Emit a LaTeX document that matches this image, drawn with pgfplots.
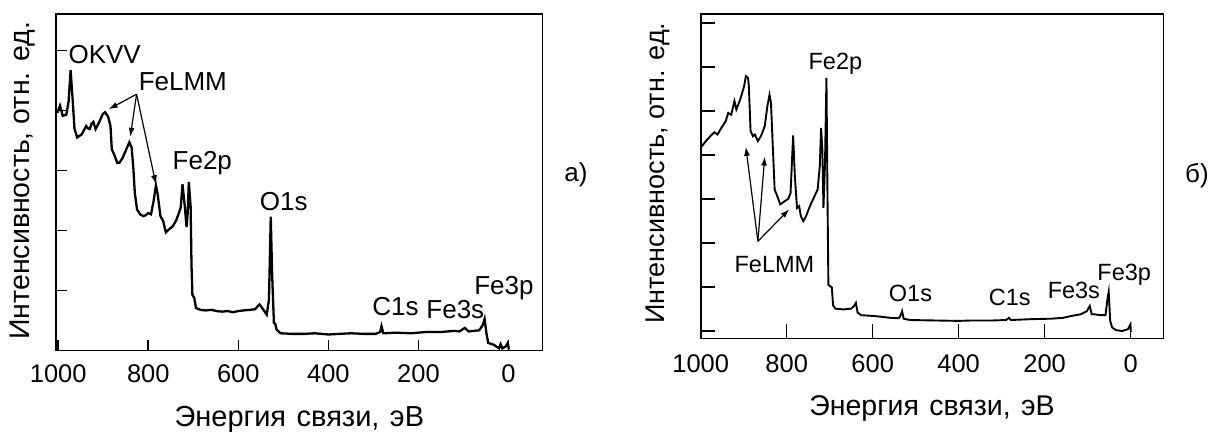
\documentclass[border=0pt]{standalone}
\usepackage{fontspec}
\setmainfont{Liberation Sans}
\newfontfamily\lblfont[WordSpace=1.3]{Liberation Sans}
\usepackage{pgfplots}
\pgfplotsset{compat=1.18}
\usetikzlibrary{arrows.meta}

\pgfplotsset{
  xps/.style={
    scale only axis,
    anchor=south west,
    x dir=reverse,
    clip=false,
    tick align=inside,
    xtick pos=bottom,
    ytick pos=left,
    xtick={0,200,...,1000},
    yticklabels={},
    scaled x ticks=false,
    /pgf/number format/1000 sep={},
    /pgf/number format/assume math mode=true,
    axis line style={line width=0.8pt},
    major tick style={line width=0.8pt,black},
    minor tick num=0,
  },
}
\tikzset{
  lbl/.style={inner sep=0pt},
  arr/.style={-{Latex[length=4.5pt,width=3pt]},line width=0.6pt},
}

\begin{document}
\begin{tikzpicture}
\useasboundingbox (-28pt,-41.15pt) rectangle (579.5pt,175.35pt);

% panel a
\begin{axis}[xps,
  at={(0pt,0pt)},
  width=243.35pt, height=168.2pt,
  xmin=-76, xmax=1005,
  ymin=0, ymax=5.6,
  ytick={1,2,3,4,5},
  major tick length=5.3pt,
  xticklabel style={font=\fontsize{12.75}{15}\selectfont,anchor=base,yshift=-16.15pt},
  xlabel={Энергия связи, эВ},
  ylabel={Интенсивность, отн. ед.},
  every axis x label/.style={at={(axis description cs:0.5,-0.224)},anchor=base,font=\lblfont\fontsize{14.5}{16}\selectfont},
  every axis y label/.style={at={(axis description cs:-0.0678,0.505)},anchor=center,rotate=90,font=\fontsize{14.25}{16}\selectfont},
]
\addplot[black,line width=1.15pt] coordinates {
(1002,3.96) (996,4.08) (990,3.91) (982,3.93) (977,4.15) (972.5,4.67) (968,4.18)
(964,3.70) (958,3.55) (948,3.60) (938,3.74) (934,3.70) (930,3.69) (926,3.78)
(922,3.81) (917,3.69) (910,3.79) (901,3.94) (896,3.97) (889,3.89) (884,3.74)
(881,3.35) (876,3.27) (869,3.13) (864,3.13) (857,3.21) (849,3.35) (842,3.47)
(837,3.38) (833,3.02) (830,2.63) (825,2.35) (818,2.27) (811,2.24) (807,2.25)
(800,2.29) (794,2.27) (788,2.50) (783,2.75) (779,2.60) (773,2.24) (767,2.16)
(761,1.97) (754,2.02) (746,2.07) (738,2.17) (732,2.29) (728,2.38) (724,2.77)
(719,2.41) (715,2.06) (712.5,2.29) (710,2.81) (706,2.40) (704,1.41) (702,0.93)
(698,0.88) (694,0.71) (684,0.68) (672,0.67) (660,0.68) (648,0.66) (636,0.65)
(624,0.66) (612,0.64) (600,0.66) (589,0.67) (575,0.68) (563,0.69) (553,0.77)
(545,0.69) (537,0.60) (532,0.85) (528,2.23) (525,1.29) (521,0.46) (518,0.45)
(515,0.35) (506,0.29) (480,0.28) (454,0.28) (430,0.29) (400,0.27) (375,0.28)
(350,0.29) (320,0.28) (295,0.28) (285,0.31) (282,0.41) (278,0.29) (250,0.30)
(216,0.29) (185,0.31) (152,0.31) (120,0.33) (109,0.32) (97,0.38) (89,0.32)
(65,0.34) (57,0.43) (53,0.53) (49,0.29) (45,0.13) (33,0.10) (21,0.04)
(17.5,0.11) (13.5,0.04) (6,0.07) (1.6,0.13) (-1,0.02)
};
\begin{scope}[font=\fontsize{13}{15}\selectfont]
\node[lbl,anchor=base west] at (axis cs:978,4.78) {OKVV};
\node[lbl,anchor=base west] at (axis cs:822,4.33) {FeLMM};
\node[lbl,anchor=base] at (axis cs:680,3.02) {Fe2p};
\node[lbl,anchor=base] at (axis cs:499,2.33) {O1s};
\node[lbl,anchor=base] at (axis cs:251,0.59) {C1s};
\node[lbl,anchor=base] at (axis cs:118,0.53) {Fe3s};
\node[lbl,anchor=base] at (axis cs:10,0.93) {Fe3p};
\end{scope}
\draw[arr] (axis cs:826,4.27) -- (axis cs:888,4.02);
\draw[arr] (axis cs:826,4.27) -- (axis cs:840,3.56);
\draw[arr] (axis cs:826,4.27) -- (axis cs:783,2.77);
\end{axis}

% panel b
\begin{axis}[xps,
  at={(322.35pt,6.2pt)},
  width=231.3pt, height=162pt,
  xmin=-76, xmax=1000,
  ymin=-0.166, ymax=7.205,
  ytick={0,1,...,7},
  major tick length=7pt,
  xticklabel style={font=\fontsize{12.75}{15}\selectfont,anchor=base,yshift=-17.35pt},
  xlabel={Энергия связи, эВ},
  ylabel={Интенсивность, отн. ед.},
  every axis x label/.style={at={(axis description cs:0.5,-0.237)},anchor=base,font=\lblfont\fontsize{14.25}{16}\selectfont},
  every axis y label/.style={at={(axis description cs:-0.0934,0.51)},anchor=center,rotate=90,font=\fontsize{13.5}{16}\selectfont},
]
\addplot[black,line width=0.95pt] coordinates {
(1000,4.17) (988,4.32) (974,4.47) (968,4.52) (961,4.47) (952,4.62) (942,4.77)
(936,4.96) (929,4.92) (921.5,5.23) (917,5.04) (908,5.27) (899,5.57) (895,5.80)
(890,5.76) (888,5.57) (884,4.55) (878.5,4.43) (874,4.47) (867,4.32) (860,4.43)
(851,4.66) (845,5.11) (840,5.37) (836.5,5.19) (833,4.36) (828,3.22) (822,3.07)
(815,2.88) (805,2.95) (796,3.01) (791,3.14) (785,4.45) (781,3.52) (776,2.80)
(771,2.84) (767,2.61) (761.5,2.50) (755,2.61) (746,2.84) (737,3.03) (728,3.22)
(723,3.75) (720,4.62) (717,4.13) (714.5,2.80) (711,3.75) (707.5,5.76) (705,2.99)
(703,1.05) (699,1.02) (695,0.99) (692,0.58) (687,0.51) (668,0.49) (650,0.51)
(643,0.57) (639,0.64) (635,0.42) (627,0.36) (595,0.34) (559,0.30) (539,0.29)
(534,0.38) (531.5,0.45) (528,0.28) (513,0.25) (458,0.24) (400,0.23) (367,0.24)
(320,0.24) (289.5,0.25) (283,0.30) (278.5,0.25) (230,0.27) (184.5,0.28)
(157,0.30) (139,0.34) (116,0.38) (102,0.45) (95,0.57) (90.5,0.38) (84,0.38)
(70,0.36) (58.4,0.36) (54,0.72) (51,0.89) (47.5,0.23) (43,0.08) (34,0.02)
(20,0.00) (6.4,0.04) (0.5,0.15) (-0.5,-0.02)
};
\begin{scope}[font=\fontsize{11.75}{14}\selectfont]
\node[lbl,anchor=base west] at (axis cs:750,5.95) {Fe2p};
\node[lbl,anchor=base west] at (axis cs:922,1.33) {FeLMM};
\node[lbl,anchor=base] at (axis cs:512,0.68) {O1s};
\node[lbl,anchor=base] at (axis cs:281,0.58) {C1s};
\node[lbl,anchor=base] at (axis cs:132,0.74) {Fe3s};
\node[lbl,anchor=base] at (axis cs:15,1.15) {Fe3p};
\end{scope}
\draw[arr] (axis cs:867,2.04) -- (axis cs:895,4.19);
\draw[arr] (axis cs:867,2.04) -- (axis cs:851,3.97);
\draw[arr] (axis cs:867,2.04) -- (axis cs:794,2.77);
\end{axis}

\node[font=\fontsize{13}{15}\selectfont] at (260pt,87.85pt) {а)};
\node[font=\fontsize{13}{15}\selectfont] at (570.5pt,87.35pt) {б)};
\end{tikzpicture}
\end{document}
